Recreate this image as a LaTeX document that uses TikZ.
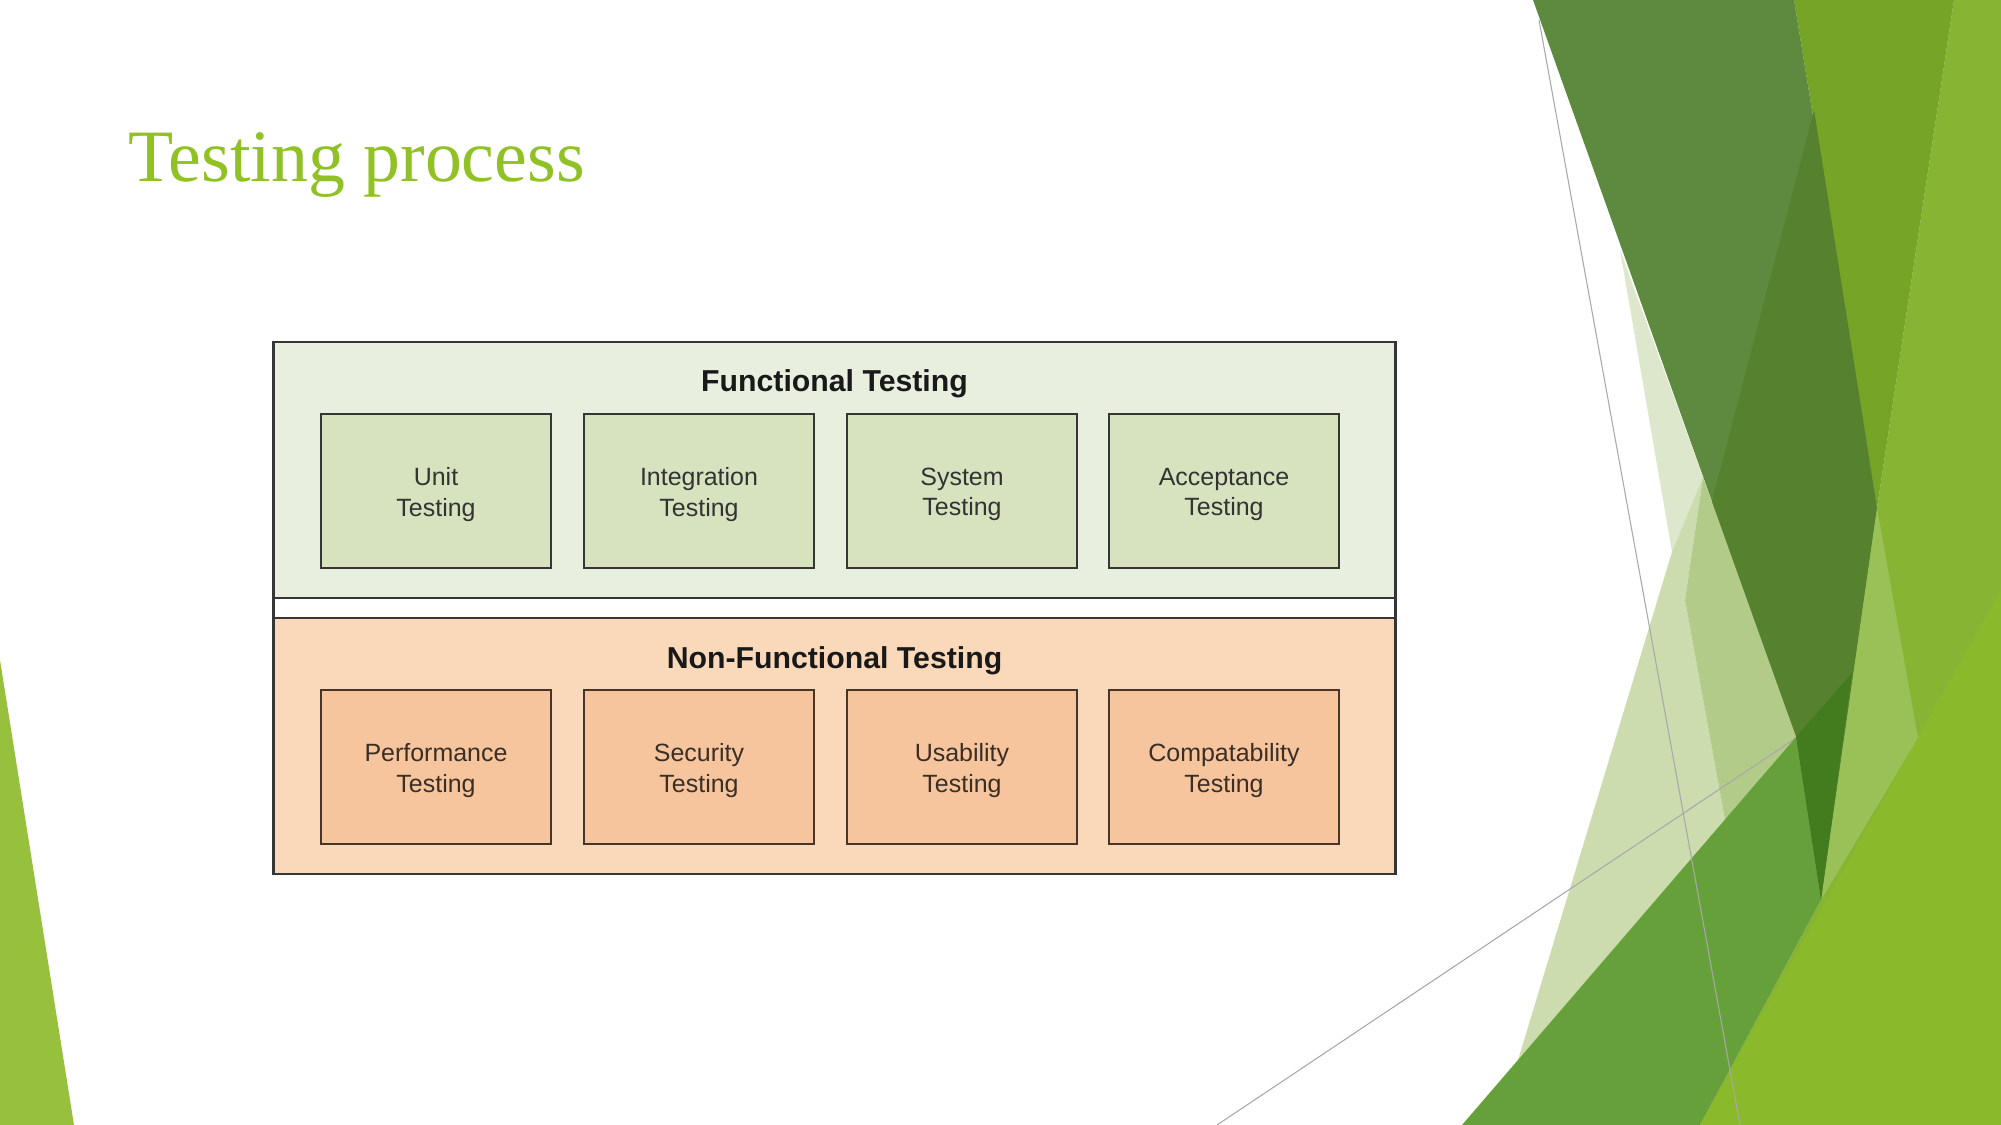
\documentclass[tikz,border=0pt]{standalone}
\usepackage{fontspec}
\setmainfont{Liberation Sans}
\newfontfamily\titleserif{Liberation Serif}
\definecolor{facet}{HTML}{90C226}
\definecolor{leftgreen}{HTML}{97C03C}
\definecolor{lightR}{HTML}{88B433}
\definecolor{olive}{HTML}{75A427}
\definecolor{darkA}{HTML}{5E8A3F}
\definecolor{darkAb}{HTML}{56822F}
\definecolor{sliver}{HTML}{99C158}
\definecolor{paleV}{HTML}{DDE7CB}
\definecolor{pale}{HTML}{CCDCAE}
\definecolor{midpale}{HTML}{B3CB89}
\definecolor{medB}{HTML}{66A03A}
\definecolor{darkest}{HTML}{437C1E}
\definecolor{lime}{HTML}{8BB92C}
\definecolor{thinline}{HTML}{A8A8A8}
\definecolor{fband}{HTML}{E8EFDF}
\definecolor{fbox}{HTML}{D7E3BF}
\definecolor{nband}{HTML}{FAD9BB}
\definecolor{nbox}{HTML}{F7C59D}
\definecolor{bordergray}{HTML}{363636}
\definecolor{nborder}{HTML}{453629}
\definecolor{ftext}{HTML}{333333}
\definecolor{ntext}{HTML}{3A2E25}
\tikzset{
  band/.style={draw=bordergray, line width=0.75pt, minimum width=11.21cm, minimum height=2.56cm, inner sep=0pt},
  bandtitle/.style={font=\bfseries\fontsize{8.6}{10}\selectfont, text=black!90, anchor=base, inner sep=0pt},
  fstep/.style={draw=bordergray, fill=fbox, line width=0.6pt, minimum width=2.30cm, minimum height=1.54cm, inner sep=0pt},
  nstep/.style={draw=nborder, fill=nbox, line width=0.6pt, minimum width=2.30cm, minimum height=1.54cm, inner sep=0pt},
  ftxt/.style={align=center, inner sep=0pt, text=ftext, font=\fontsize{7.1}{8.7}\selectfont},
  ntxt/.style={align=center, inner sep=0pt, text=ntext, font=\fontsize{7.1}{8.7}\selectfont},
  thin/.style={draw=thinline, line width=0.3pt}
}
\begin{document}
\begin{tikzpicture}[x=0.01cm, y=-0.01cm]
\useasboundingbox (0,0) rectangle (2001,1125);
\fill[white] (0,0) rectangle (2001,1125);
% left decoration
\fill[leftgreen] (0,660) -- (74,1125) -- (0,1125) -- cycle;
% right decoration
\fill[lightR] (1954,0) -- (2001,0) -- (2001,1125) -- (1700,1125) -- (1821,900) -- (1877,508) -- cycle;
\fill[olive] (1794,0) -- (1954,0) -- (1877,508) -- cycle;
\fill[darkA] (1533,0) -- (1794,0) -- (1877,508) -- (1821,900) -- (1796,737) -- cycle;
\fill[darkAb] (1814,110) -- (1877,508) -- (1821,900) -- (1796,737) -- (1711,505) -- cycle;
\fill[sliver] (1877,508) -- (1918,738) -- (1821,900) -- cycle;
\fill[paleV] (1620,250) -- (1703,477) -- (1672,552) -- cycle;
\fill[pale] (1672,552) -- (1703,477) -- (1685,600) -- (1725,820) -- (1518,1060) -- cycle;
\fill[midpale] (1703,477) -- (1796,737) -- (1725,820) -- (1685,600) -- cycle;
\draw[thin] (1217,1125) -- (1796,738);
\fill[medB] (1462,1125) -- (1796,737) -- (1821,900) -- (1700,1125) -- cycle;
\fill[darkest] (1796,737) -- (1852,673) -- (1821,900) -- cycle;
\fill[lime] (2001,590) -- (2001,1125) -- (1700,1125) -- cycle;
\draw[thin] (1539,20) -- (1740,1125);
% title
\node[anchor=base west, inner sep=0pt, text=facet, font=\titleserif\fontsize{21}{25}\selectfont] (title) at (128,182) {Testing process};
% diagram
\node[draw=bordergray, line width=0.75pt, fill=white, minimum width=11.21cm, minimum height=5.32cm, inner sep=0pt] (outer) at (834.5,608) {};
\node[band, fill=fband] (fband) at (834.5,470) {};
\node[band, fill=nband] (nband) at (834.5,746) {};
\node[bandtitle] (ftitle) at (834.5,392) {Functional Testing};
\node[bandtitle] (ntitle) at (834.5,668) {Non-Functional Testing};
\node[fstep] (unit) at (436,491) {};
\node[fstep] (integ) at (699,491) {};
\node[fstep] (system) at (962,491) {};
\node[fstep] (accept) at (1224,491) {};
\node[nstep] (perf) at (436,767) {};
\node[nstep] (secur) at (699,767) {};
\node[nstep] (usab) at (962,767) {};
\node[nstep] (compat) at (1224,767) {};
\node[ftxt] (unit-t) at ([yshift=-1pt]unit.center) {Unit\\Testing};
\node[ftxt] (integ-t) at ([yshift=-1pt]integ.center) {Integration\\Testing};
\node[ftxt] (system-t) at ([yshift=-1pt]system.center) {System\\Testing};
\node[ftxt] (accept-t) at ([yshift=-1pt]accept.center) {Acceptance\\Testing};
\node[ntxt] (perf-t) at ([yshift=-1pt]perf.center) {Performance\\Testing};
\node[ntxt] (secur-t) at ([yshift=-1pt]secur.center) {Security\\Testing};
\node[ntxt] (usab-t) at ([yshift=-1pt]usab.center) {Usability\\Testing};
\node[ntxt] (compat-t) at ([yshift=-1pt]compat.center) {Compatability\\Testing};
\end{tikzpicture}
\end{document}
